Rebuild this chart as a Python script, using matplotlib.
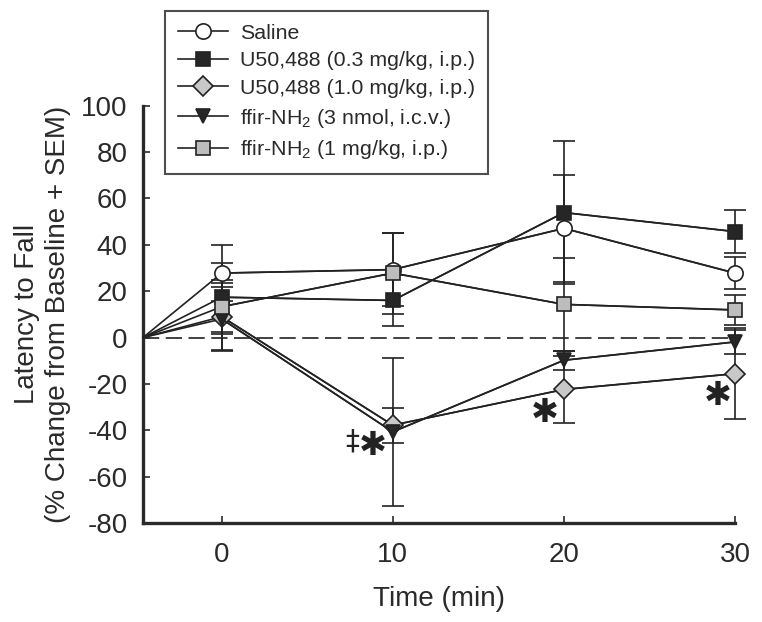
import numpy as np
import matplotlib
matplotlib.use("Agg")
import matplotlib.pyplot as plt

plt.rcParams['font.family'] = ['Liberation Sans', 'DejaVu Sans']
plt.rcParams['mathtext.default'] = 'regular'
plt.rcParams['axes.unicode_minus'] = False

# time points (baseline at the left edge of the axis, then 0-30 min)
times = [-4.6, 0, 10, 20, 30]

labels = ["Saline",
          "U50,488 (0.3 mg/kg, i.p.)",
          "U50,488 (1.0 mg/kg, i.p.)",
          "ffir-NH$_2$ (3 nmol, i.c.v.)",
          "ffir-NH$_2$ (1 mg/kg, i.p.)"]

saline = [0, 27.8, 29.3, 47.1, 27.8]
saline_sem = [0, 12, 15.9, 23, 7]
u50_low = [0, 17.4, 16.0, 53.9, 45.7]
u50_low_sem = [0, 14.8, 11, 31, 9.4]
u50_high = [0, 9, -37.8, -22.4, -15.6]
u50_high_sem = [0, 14.5, 7.5, 14.6, 19.6]
ffir_icv = [0, 8, -40.7, -9.8, -1.9]
ffir_icv_sem = [0, 14, 32, 4, 5]
ffir_ip = [0, 13.3, 27.8, 14.3, 11.9]
ffir_ip_sem = [0, 11.7, 17.5, 20, 6.5]

series = [saline, u50_low, u50_high, ffir_icv, ffir_ip]
sems = [saline_sem, u50_low_sem, u50_high_sem, ffir_icv_sem, ffir_ip_sem]
markers = ['o', 's', 'D', 'v', 's']
faces = ['white', '#262626', '#c8c8c8', '#262626', '#bdbdbd']
msizes = [11, 10.5, 10, 10, 10.5]

# significance marks: (text, x, y, size)
marks = [("\u2021", 7.65, -45.0, 20),
         ("\u2731", 8.85, -46.5, 24),
         ("\u2731", 18.9, -32.3, 24),
         ("\u2731", 29.0, -24.9, 24)]

fig = plt.figure(figsize=(7.62, 6.22), dpi=100)
ax = fig.add_axes([143 / 762, 1 - 523 / 622, (735 - 143) / 762, (523 - 105.7) / 622])

ax.axhline(0, color='#333333', lw=1.3, dashes=(9, 3.6), zorder=1)

handles = []
for i in range(len(series)):
    y = np.array(series[i])
    e = np.array(sems[i])
    ax.errorbar(times[1:], y[1:], yerr=e[1:], fmt='none', ecolor='#222222',
                elinewidth=1.2, capsize=8, capthick=1.2, clip_on=False, zorder=2)
    ax.plot(times, y, color='#222222', lw=1.2, clip_on=False, zorder=3)
    h, = ax.plot(times[1:], y[1:], linestyle='-', color='#222222', lw=1.2,
                 marker=markers[i], markersize=msizes[i], markerfacecolor=faces[i],
                 markeredgecolor='#222222', markeredgewidth=1.2,
                 clip_on=False, zorder=4, label=labels[i])
    handles.append(h)

for txt, x, y, s in marks:
    ax.text(x, y, txt, fontsize=s, ha='center', va='center', color='#222222',
            family=['DejaVu Sans'])

ax.set_xlim(-4.6, 30)
ax.set_ylim(-80, 100)
ax.set_xticks([0, 10, 20, 30])
ax.set_yticks(range(-80, 101, 20))
ax.spines['top'].set_visible(False)
ax.spines['right'].set_visible(False)
for sp in ['left', 'bottom']:
    ax.spines[sp].set_linewidth(2.4)
    ax.spines[sp].set_color('#2a2a2a')
ax.tick_params(direction='in', length=5, width=1.2, color='#2a2a2a',
               labelsize=20, labelcolor='#2a2a2a')
ax.tick_params(axis='y', pad=11)
ax.tick_params(axis='x', pad=14)

ax.set_xlabel("Time (min)", fontsize=20, color='#2a2a2a', labelpad=13)
ax.set_ylabel("Latency to Fall\n(% Change from Baseline + SEM)", fontsize=20,
              color='#2a2a2a', labelpad=7, linespacing=1.25)

leg = fig.legend(handles=handles, loc='upper left',
                 bbox_to_anchor=(165 / 762, 1 - 11 / 622), fontsize=15.4,
                 frameon=True, fancybox=False, edgecolor='#222222',
                 handlelength=2.35, handletextpad=0.55, labelspacing=0.40,
                 borderpad=0.6, borderaxespad=0)
leg.get_frame().set_linewidth(1.5)
for t in leg.get_texts():
    t.set_color('#2a2a2a')

fig.savefig("out.png", dpi=100)
